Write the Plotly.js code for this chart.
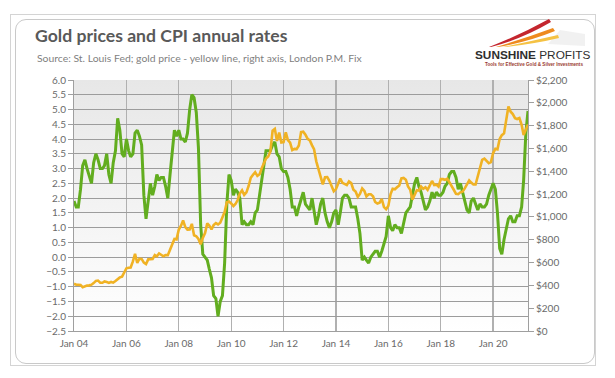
<!DOCTYPE html>
<html>
<head>
<meta charset="utf-8">
<script src="https://cdn.plot.ly/plotly-3.0.1.min.js"></script>
<style>
  html, body { margin: 0; padding: 0; background: #ffffff; }
  #wrap { position: relative; width: 615px; height: 378px; overflow: hidden; }
  #outer { position: absolute; left: 10px; top: 14px; width: 586px; height: 352px; border: 1px solid #d4d4d4; box-sizing: border-box; }
  #inner { position: absolute; left: 15px; top: 19px; width: 580px; height: 345px; border: 1px solid #c9c9c9; border-radius: 11px; box-sizing: border-box; }
  #chart { position: absolute; left: 0; top: 0; width: 615px; height: 378px; }
</style>
</head>
<body>
<div id="wrap">
  <div id="outer"></div>
  <div id="inner"></div>
  <div id="chart"></div>
</div>
<script>
// ---- Data (monthly, Jan 2004 .. May 2021) ----
const startYear = 2004, startMonth = 1;

// CPI annual rate, % (left axis)
const cpi2004 = [1.9,1.7,1.7,2.3,3.1,3.3,3.0,2.7,2.5,3.2,3.5,3.3];
const cpi2005 = [3.0,3.0,3.1,3.5,2.8,2.5,3.2,3.6,4.7,4.3,3.5,3.4];
const cpi2006 = [4.0,3.6,3.4,3.5,4.2,4.3,4.1,3.8,2.1,1.3,2.0,2.5];
const cpi2007 = [2.1,2.4,2.8,2.6,2.7,2.7,2.4,2.0,2.8,3.5,4.3,4.1];
const cpi2008 = [4.3,4.0,4.0,3.9,4.2,5.0,5.5,5.4,4.9,3.7,1.1,0.1];
const cpi2009 = [0.0,-0.1,-0.4,-0.7,-1.3,-1.4,-2.0,-1.5,-1.3,-0.2,1.8,2.8];
const cpi2010 = [2.6,2.1,2.3,2.2,2.0,1.1,1.2,1.1,1.1,1.2,1.1,1.5];
const cpi2011 = [1.6,2.1,2.7,3.2,3.6,3.6,3.6,3.8,3.9,3.5,3.4,3.0];
const cpi2012 = [2.9,2.9,2.7,2.3,1.7,1.7,1.4,1.7,2.0,2.2,1.8,1.7];
const cpi2013 = [1.6,2.0,1.5,1.1,1.4,1.8,2.0,1.5,1.2,1.0,1.2,1.5];
const cpi2014 = [1.6,1.1,1.5,2.0,2.1,2.1,2.0,1.7,1.7,1.7,1.3,0.8];
const cpi2015 = [-0.1,0.0,-0.1,-0.2,0.0,0.1,0.2,0.2,0.0,0.2,0.5,0.7];
const cpi2016 = [1.4,1.0,0.9,1.1,1.0,1.0,0.8,1.1,1.5,1.6,1.7,2.1];
const cpi2017 = [2.5,2.7,2.4,2.2,1.9,1.6,1.7,1.9,2.2,2.0,2.2,2.1];
const cpi2018 = [2.1,2.2,2.4,2.5,2.8,2.9,2.9,2.7,2.3,2.5,2.2,1.9];
const cpi2019 = [1.6,1.5,1.9,2.0,1.8,1.6,1.8,1.7,1.7,1.8,2.1,2.3];
const cpi2020 = [2.5,2.3,1.5,0.3,0.1,0.6,1.0,1.3,1.4,1.2,1.2,1.4];
const cpi2021 = [1.4,1.7,2.6,4.2,4.95];

// Gold price, USD/oz, London P.M. Fix monthly (right axis)
const gold2004 = [414,405,406,404,384,392,398,400,406,420,439,442];
const gold2005 = [424,423,434,429,422,430,424,438,456,470,476,510];
const gold2006 = [550,555,557,610,676,596,633,632,599,586,628,629];
const gold2007 = [631,665,655,680,668,655,665,665,713,754,807,803];
const gold2008 = [889,923,969,911,889,890,939,839,830,807,760,816];
const gold2009 = [858,943,925,890,928,946,934,949,997,1043,1128,1135];
const gold2010 = [1118,1095,1113,1148,1205,1233,1193,1215,1271,1343,1370,1392];
const gold2011 = [1360,1374,1424,1474,1512,1529,1573,1756,1772,1665,1739,1652];
const gold2012 = [1656,1742,1673,1650,1585,1596,1594,1626,1744,1747,1721,1684];
const gold2013 = [1671,1627,1593,1487,1414,1343,1286,1347,1349,1316,1275,1225];
const gold2014 = [1244,1300,1336,1299,1287,1279,1311,1296,1239,1222,1176,1201];
const gold2015 = [1250,1227,1179,1198,1199,1181,1131,1117,1125,1157,1086,1068];
const gold2016 = [1097,1200,1246,1242,1260,1276,1337,1341,1326,1267,1238,1152];
const gold2017 = [1192,1234,1231,1267,1246,1260,1237,1283,1315,1280,1283,1265];
const gold2018 = [1331,1331,1325,1335,1303,1282,1238,1202,1199,1215,1221,1250];
const gold2019 = [1292,1320,1301,1285,1284,1359,1413,1500,1511,1495,1471,1480];
const gold2020 = [1560,1597,1592,1683,1716,1732,1846,1968,1922,1901,1866,1858];
const gold2021 = [1867,1808,1718,1760,1810];

const tickDates = ['2004-01-01','2006-01-01','2008-01-01','2010-01-01','2012-01-01','2014-01-01','2016-01-01','2018-01-01','2020-01-01'];
const tickLabels = ['Jan 04','Jan 06','Jan 08','Jan 10','Jan 12','Jan 14','Jan 16','Jan 18','Jan 20'];

const titleText = 'Gold prices and CPI annual rates';
const subtitleText = 'Source: St. Louis Fed; gold price - yellow line, right axis, London P.M. Fix';

// ---- Build series ----
const cpi = [].concat(cpi2004,cpi2005,cpi2006,cpi2007,cpi2008,cpi2009,cpi2010,cpi2011,cpi2012,cpi2013,cpi2014,cpi2015,cpi2016,cpi2017,cpi2018,cpi2019,cpi2020,cpi2021);
const gold = [].concat(gold2004,gold2005,gold2006,gold2007,gold2008,gold2009,gold2010,gold2011,gold2012,gold2013,gold2014,gold2015,gold2016,gold2017,gold2018,gold2019,gold2020,gold2021);
const months = cpi.map((_, i) => {
  const m = startMonth - 1 + i;
  const y = startYear + Math.floor(m / 12);
  const mm = (m % 12) + 1;
  return y + '-' + (mm < 10 ? '0' : '') + mm + '-01';
});

// ---- Geometry helpers (plot area in px) ----
const L = 74, R = 528, T = 80, B = 331;
const W = 615, H = 378;
const px = x => (x - L) / (R - L);
const py = y => (B - y) / (B - T);
const P = (x, y) => px(x).toFixed(5) + ',' + py(y).toFixed(5);

const axisFont = {family: 'Lato, "Open Sans", sans-serif', size: 10, color: '#6a6a6a'};

const traces = [
  {
    x: months, y: cpi, type: 'scatter', mode: 'lines', name: 'CPI',
    line: {color: '#62ad1f', width: 3}, yaxis: 'y', hoverinfo: 'skip'
  },
  {
    x: months, y: gold, type: 'scatter', mode: 'lines', name: 'Gold',
    line: {color: '#f0b224', width: 2.6}, yaxis: 'y2', hoverinfo: 'skip'
  }
];

const gradSvg = "<svg xmlns='http://www.w3.org/2000/svg' width='10' height='100' preserveAspectRatio='none'><defs><linearGradient id='g' x1='0' y1='0' x2='0' y2='1'><stop offset='0' stop-color='#e7e7e7'/><stop offset='1' stop-color='#ffffff'/></linearGradient></defs><rect width='10' height='100' fill='url(#g)'/></svg>";

const layout = {
  width: W, height: H,
  margin: {l: L, r: W - R, t: T, b: H - B, pad: 0},
  paper_bgcolor: 'rgba(0,0,0,0)',
  plot_bgcolor: 'rgba(0,0,0,0)',
  showlegend: false,
  title: {
    text: '<b>' + titleText + '</b>',
    x: 35 / W, xanchor: 'left', xref: 'container',
    y: 1 - 36 / H, yanchor: 'middle', yref: 'container',
    font: {family: 'Lato, "Open Sans", sans-serif', size: 17.6, color: '#595959'}
  },
  xaxis: {
    type: 'date',
    range: [months[0], months[months.length - 1]],
    tickmode: 'array', tickvals: tickDates, ticktext: tickLabels,
    showgrid: true, gridcolor: '#b0b0b0', gridwidth: 1.3,
    showline: true, linecolor: '#9f9f9f', linewidth: 1,
    ticks: '', ticklabelstandoff: 3,
    tickfont: axisFont, zeroline: false, fixedrange: true
  },
  yaxis: {
    range: [-2.5, 6.0], tick0: -2.5, dtick: 0.5, tickformat: '.1f',
    showgrid: true, gridcolor: '#9c9c9c', gridwidth: 1,
    showline: true, linecolor: '#9f9f9f', linewidth: 1,
    ticks: 'outside', ticklen: 5, tickcolor: '#9f9f9f',
    tickfont: axisFont, zeroline: false, fixedrange: true
  },
  yaxis2: {
    overlaying: 'y', side: 'right',
    range: [0, 2200], tick0: 0, dtick: 200, tickprefix: '$', tickformat: ',d',
    showgrid: false,
    showline: true, linecolor: '#9f9f9f', linewidth: 1,
    ticks: 'outside', ticklen: 5, tickcolor: '#9f9f9f',
    tickfont: axisFont, zeroline: false, fixedrange: true
  },
  images: [{
    source: 'data:image/svg+xml;charset=utf-8,' + encodeURIComponent(gradSvg),
    xref: 'paper', yref: 'paper', x: 0, y: 1, sizex: 1, sizey: 1,
    xanchor: 'left', yanchor: 'top', sizing: 'stretch', layer: 'below'
  }],
  annotations: [
    {
      text: subtitleText, xref: 'paper', yref: 'paper',
      x: px(35), y: py(58), xanchor: 'left', yanchor: 'middle', showarrow: false,
      font: {family: 'Lato, "Open Sans", sans-serif', size: 10.4, color: '#7f7f7f'}
    },
    {
      text: '<b>SUNSHINE</b> PROFITS', xref: 'paper', yref: 'paper',
      x: px(533), y: py(55), xanchor: 'center', yanchor: 'middle', showarrow: false,
      font: {family: '"Liberation Sans", Arial, sans-serif', size: 11.8, color: '#2e2e2e'}
    },
    {
      text: '<b>Tools for Effective Gold &amp; Silver Investments</b>', xref: 'paper', yref: 'paper',
      x: px(534), y: py(64), xanchor: 'center', yanchor: 'middle', showarrow: false,
      font: {family: '"Liberation Sans", Arial, sans-serif', size: 4.6, color: '#9a3b2f'}
    }
  ],
  shapes: [
    {type: 'path', xref: 'paper', yref: 'paper', layer: 'above',
     path: 'M' + P(560, 30) + ' L' + P(585, 34) + ' L' + P(585, 46) + ' L' + P(548, 44) + ' Z',
     fillcolor: 'rgba(200,200,200,0.25)', line: {width: 0}},
    {type: 'path', xref: 'paper', yref: 'paper', layer: 'above',
     path: 'M' + P(489, 47) + ' Q' + P(518, 36) + ' ' + P(549, 19) + ' L' + P(551, 22) + ' Q' + P(522, 39) + ' ' + P(491, 47) + ' Z',
     fillcolor: '#c4262e', line: {width: 0}},
    {type: 'path', xref: 'paper', yref: 'paper', layer: 'above',
     path: 'M' + P(496, 47) + ' Q' + P(526, 38) + ' ' + P(553, 28) + ' L' + P(555, 31) + ' Q' + P(528, 42) + ' ' + P(498, 47) + ' Z',
     fillcolor: '#ee8a1e', line: {width: 0}},
    {type: 'path', xref: 'paper', yref: 'paper', layer: 'above',
     path: 'M' + P(503, 47) + ' Q' + P(532, 41) + ' ' + P(558, 35) + ' L' + P(559, 38) + ' Q' + P(534, 44) + ' ' + P(505, 47) + ' Z',
     fillcolor: '#f5c244', line: {width: 0}}
  ]
};

Plotly.newPlot('chart', traces, layout, {staticPlot: true, displayModeBar: false});
</script>
</body>
</html>
